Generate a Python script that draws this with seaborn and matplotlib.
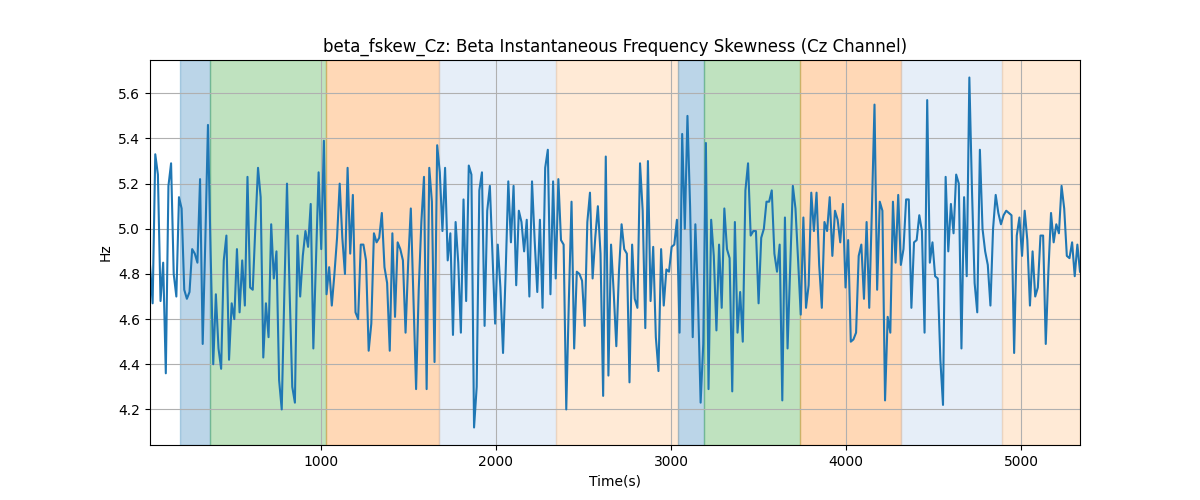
import numpy as np
import pandas as pd
import matplotlib
matplotlib.use("Agg")
import matplotlib.pyplot as plt
import seaborn as sns

t_first = 23
t_last = 5337

skew_part1 = [4.84, 4.67, 5.33, 5.24, 4.68, 4.85, 4.36, 5.19, 5.29, 4.80,
              4.70, 5.14, 5.09, 4.73, 4.69, 4.72, 4.91, 4.89, 4.85, 5.22,
              4.49, 4.95, 5.46, 4.90, 4.40, 4.71, 4.47, 4.38, 4.86, 4.97,
              4.42, 4.67, 4.60, 4.91, 4.63, 4.86, 4.66, 5.23, 4.74, 4.73,
              5.01, 5.27, 5.14, 4.43, 4.67, 4.52, 5.02, 4.78, 4.90, 4.33,
              4.20, 4.72, 5.20, 4.72, 4.30, 4.23, 4.97, 4.70, 4.88, 4.99]
skew_part2 = [4.92, 5.11, 4.47, 4.86, 5.25, 4.91, 5.39, 4.71, 4.83, 4.66,
              4.80, 4.96, 5.20, 4.96, 4.80, 5.27, 4.89, 5.15, 4.63, 4.60,
              4.93, 4.93, 4.86, 4.46, 4.58, 4.98, 4.94, 4.96, 5.07, 4.83,
              4.76, 4.46, 4.98, 4.61, 4.94, 4.91, 4.86, 4.54, 4.85, 5.09,
              4.69, 4.29, 4.73, 5.03, 5.23, 4.29, 5.27, 5.12, 4.41, 5.37,
              5.25, 4.99, 5.27, 4.86, 4.98, 4.53, 5.03, 4.85, 4.54]
skew_part3 = [5.13, 4.68, 5.28, 5.24, 4.12, 4.30, 5.17, 5.25, 4.57, 5.08,
              5.19, 4.88, 4.58, 4.93, 4.74, 4.45, 4.81, 5.21, 4.94, 5.19,
              4.75, 5.08, 5.03, 4.90, 5.04, 4.70, 5.21, 4.95, 4.72, 5.04,
              4.65, 5.27, 5.35, 4.71, 5.21, 4.78, 5.22, 4.95, 4.93, 4.20,
              4.69, 5.12, 4.47, 4.81, 4.80, 4.77, 4.57, 5.03, 5.16, 4.78,
              4.96, 5.10, 4.89, 4.26, 5.32, 4.35, 4.93, 4.72, 4.48]
skew_part4 = [4.81, 5.02, 4.91, 4.89, 4.32, 4.93, 4.69, 4.65, 5.29, 5.08,
              4.56, 5.30, 4.68, 4.92, 4.52, 4.37, 4.91, 4.66, 4.82, 4.81,
              4.92, 4.93, 5.04, 4.54, 5.42, 5.00, 5.50, 5.10, 4.52, 5.02,
              4.69, 4.23, 4.49, 5.38, 4.29, 5.04, 4.88, 4.55, 4.93, 4.65,
              5.09, 4.91, 4.87, 4.28, 5.03, 4.54, 4.72, 4.50, 5.17, 5.29,
              4.97, 4.99, 4.99, 4.67, 4.96, 5.00, 5.12, 5.12, 5.17]
skew_part5 = [4.89, 4.81, 4.93, 4.24, 5.05, 4.47, 4.83, 5.19, 5.09, 4.86,
              4.62, 5.05, 4.65, 4.75, 5.16, 4.99, 5.16, 4.84, 4.65, 5.03,
              4.99, 5.14, 4.88, 5.08, 5.04, 4.94, 5.11, 4.74, 4.95, 4.50,
              4.51, 4.54, 4.88, 4.93, 4.69, 5.03, 4.65, 5.08, 5.55, 4.73,
              5.12, 5.08, 4.24, 4.61, 4.54, 5.12, 4.85, 5.15, 4.84, 4.91,
              5.13, 5.13, 4.65, 4.94, 4.95, 5.06, 4.99, 4.54]
skew_part6 = [5.57, 4.85, 4.94, 4.79, 4.78, 4.42, 4.22, 5.23, 4.90, 5.11,
              4.98, 5.24, 5.20, 4.47, 5.14, 4.79, 5.67, 5.17, 4.76, 4.63,
              5.35, 5.00, 4.90, 4.84, 4.66, 5.00, 5.15, 5.07, 5.02, 5.06,
              5.08, 5.07, 5.06, 4.45, 4.97, 5.05, 4.88, 5.08, 4.95, 4.66,
              4.90, 4.70, 4.74, 4.97, 4.97, 4.49, 4.81, 5.07, 4.94, 5.02,
              4.98, 5.19, 5.09, 4.88, 4.87, 4.94, 4.79, 4.93, 4.81]

# shaded segments (start, end, colour)
seg_starts = [194, 367, 1029, 1672, 2345, 3042, 3190, 3735, 4313, 4893]
seg_ends = [367, 1029, 1672, 2345, 3042, 3190, 3735, 4313, 4893, 5337]
seg_colors = ["#1f77b4", "#2ca02c", "#ff7f0e", "#aec7e8", "#ffbb78",
              "#1f77b4", "#2ca02c", "#ff7f0e", "#aec7e8", "#ffbb78"]

values = skew_part1 + skew_part2 + skew_part3 + skew_part4 + skew_part5 + skew_part6
df = pd.DataFrame({"time": np.linspace(t_first, t_last, len(values)), "skew": values})

fig, ax = plt.subplots(figsize=(12, 5), dpi=100)

for a, b, c in zip(seg_starts, seg_ends, seg_colors):
    ax.axvspan(a, b, color=c, alpha=0.3)

sns.lineplot(data=df, x="time", y="skew", ax=ax, color="#1f77b4", linewidth=1.5)

ax.set_xlim(df["time"].min(), df["time"].max())
ax.grid(True)
ax.set_title("beta_fskew_Cz: Beta Instantaneous Frequency Skewness (Cz Channel)")
ax.set_xlabel("Time(s)")
ax.set_ylabel("Hz")

plt.savefig("out.png", dpi=100)
